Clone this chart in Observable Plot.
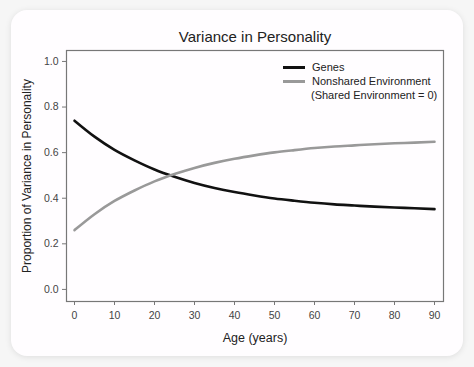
<!DOCTYPE html>
<html>
<head>
<meta charset="utf-8">
<script src="https://cdn.jsdelivr.net/npm/d3@7"></script>
<script src="https://cdn.jsdelivr.net/npm/@observablehq/plot@0.6"></script>
<style>
  html, body { margin: 0; padding: 0; background: #f6f6f6; width: 474px; height: 367px; overflow: hidden; }
  #card { position: absolute; left: 11px; top: 10px; width: 452px; height: 346px; background: #fffdff; border-radius: 16px; box-shadow: 0 1px 6px rgba(0,0,0,0.10); }
  #chart { position: absolute; left: 0; top: 0; }
  #legend { position: absolute; left: 283px; top: 60px; font-family: "Liberation Sans", Arial, sans-serif; font-size: 11px; color: #222; line-height: 14px; }
  #legend .row { display: flex; align-items: center; height: 14px; }
  #legend .sw { width: 22px; height: 3px; margin-right: 7px; }
  #legend .note { margin-left: 28px; }
</style>
</head>
<body>
<div id="card"></div>
<div id="chart"></div>
<div id="legend"></div>
<script>
const ages = [0, 5, 10, 15, 20, 25, 30, 35, 40, 45, 50, 55, 60, 65, 70, 75, 80, 85, 90];
const genes = [0.740, 0.670, 0.612, 0.566, 0.526, 0.494, 0.467, 0.445, 0.427, 0.412, 0.399, 0.389, 0.380, 0.373, 0.368, 0.363, 0.359, 0.356, 0.352];
const nonshared = [0.260, 0.330, 0.388, 0.434, 0.474, 0.506, 0.533, 0.555, 0.573, 0.588, 0.601, 0.611, 0.620, 0.627, 0.632, 0.637, 0.641, 0.644, 0.648];
const seriesNames = ["Genes", "Nonshared Environment"];
const seriesColors = ["#111111", "#999999"];
const xTicks = [0, 10, 20, 30, 40, 50, 60, 70, 80, 90];
const yTicks = [0.0, 0.2, 0.4, 0.6, 0.8, 1.0];
const titleText = "Variance in Personality";
const xLabel = "Age (years)";
const yLabel = "Proportion of Variance in Personality";
const legendNote = "(Shared Environment = 0)";

const rows = [];
ages.forEach((a, i) => {
  rows.push({age: a, value: genes[i], series: seriesNames[0]});
  rows.push({age: a, value: nonshared[i], series: seriesNames[1]});
});

const font = "'Liberation Sans', Arial, sans-serif";

const chart = Plot.plot({
  width: 474,
  height: 367,
  marginLeft: 66,
  marginRight: 31,
  marginTop: 50,
  marginBottom: 66,
  style: {background: "transparent", fontFamily: font, overflow: "visible"},
  x: {domain: [-2, 92.25]},
  y: {domain: [-0.053, 1.048]},
  color: {domain: seriesNames, range: seriesColors},
  marks: [
    Plot.frame({stroke: "#777", strokeWidth: 1.2}),
    Plot.axisX({ticks: xTicks, tickSize: 4, tickPadding: 6, stroke: "#777", fill: "#444", fontSize: 10.5, tickFormat: d => d, label: null}),
    Plot.axisY({ticks: yTicks, tickSize: 4, tickPadding: 4, stroke: "#777", fill: "#444", fontSize: 10.5, tickFormat: d3.format(".1f"), label: null}),
    Plot.line(rows, {x: "age", y: "value", z: "series", stroke: "series", strokeWidth: 2.6, curve: "monotone-x"}),
    Plot.text([titleText], {frameAnchor: "top", dy: -19, text: d => d, fontSize: 15, fill: "#222", fontFamily: font}),
    Plot.text([xLabel], {frameAnchor: "bottom", dy: 40, text: d => d, fontSize: 12.5, fill: "#222", fontFamily: font}),
    Plot.text([yLabel], {frameAnchor: "left", dx: -39, rotate: -90, textAnchor: "middle", text: d => d, fontSize: 12, fill: "#222", fontFamily: font})
  ]
});
document.getElementById("chart").appendChild(chart);

const legend = document.getElementById("legend");
seriesNames.forEach((n, i) => {
  const r = document.createElement("div");
  r.className = "row";
  const sw = document.createElement("div");
  sw.className = "sw";
  sw.style.background = seriesColors[i];
  r.appendChild(sw);
  const t = document.createElement("span");
  t.textContent = n;
  r.appendChild(t);
  legend.appendChild(r);
});
const note = document.createElement("div");
note.className = "row note";
note.textContent = legendNote;
legend.appendChild(note);
</script>
</body>
</html>
